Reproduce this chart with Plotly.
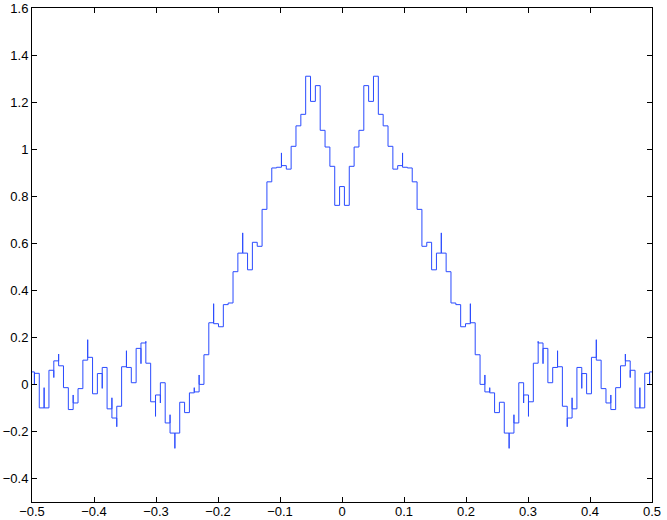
import plotly.graph_objects as go

# step width and step levels, k = -64 .. 64 (step centred on k/128)
step = 1 / 128
levels = [
    0.053, 0.047, -0.100, -0.100, 0.060, 0.100, 0.079, -0.014,
    -0.107, -0.079, -0.018, 0.103, 0.115, -0.040, 0.046, 0.072,
    -0.104, -0.143, -0.093, 0.075, 0.072, 0.007, 0.153, 0.176,
    0.090, -0.074, -0.045, 0.007, -0.164, -0.207, -0.207, -0.076,
    -0.120, -0.036, -0.032, 0.000, 0.126, 0.262, 0.258, 0.245,
    0.339, 0.346, 0.479, 0.558, 0.558, 0.487, 0.604, 0.587,
    0.744, 0.861, 0.920, 0.923, 0.930, 0.915, 1.012, 1.099,
    1.148, 1.310, 1.203, 1.270, 1.080, 1.009, 0.927, 0.761,
    0.841,
    0.761, 0.927, 1.009, 1.080, 1.270, 1.203, 1.310, 1.148,
    1.099, 1.012, 0.915, 0.930, 0.923, 0.920, 0.861, 0.744,
    0.587, 0.604, 0.487, 0.558, 0.558, 0.479, 0.346, 0.339,
    0.245, 0.258, 0.262, 0.126, 0.000, -0.032, -0.036, -0.120,
    -0.076, -0.207, -0.207, -0.164, 0.007, -0.045, -0.074, 0.090,
    0.176, 0.153, 0.007, 0.072, 0.075, -0.093, -0.143, -0.104,
    0.072, 0.046, -0.040, 0.115, 0.103, -0.018, -0.079, -0.107,
    -0.014, 0.079, 0.100, 0.060, -0.100, -0.100, 0.047, 0.053,
]

# narrow spikes sitting on step boundaries (boundary in step units)
spike_at = [-63.5, -61.5, -59.5, -58.5, -55.5, -52.5, -49.5, -47.5,
            -46.5, -44.5, -41.5, -40.5, -38.5, -37.5, -35.5, -34.5,
            -30.5, -29.5, -26.5, -20.5, -12.5,
            12.5, 20.5, 26.5, 29.5, 30.5, 34.5, 35.5, 37.5,
            38.5, 40.5, 41.5, 44.5, 46.5, 47.5, 49.5, 52.5,
            55.5, 58.5, 59.5, 61.5, 63.5]
spike_val = [0.000, -0.014, 0.029, 0.129, -0.045, 0.190, -0.017, -0.057,
             -0.180, 0.143, 0.088, 0.183, -0.136, -0.079, -0.129, -0.272,
             -0.014, 0.040, 0.343, 0.644, 0.984,
             0.984, 0.644, 0.343, 0.040, -0.014, -0.272, -0.129, -0.079,
             -0.136, 0.183, 0.088, 0.143, -0.180, -0.057, -0.017, 0.190,
             -0.045, 0.129, 0.029, -0.014, 0.000]

spikes = dict(zip(spike_at, spike_val))

# build the stair path
xs = [-0.5]
ys = [levels[0]]
for i in range(1, len(levels)):
    b = i - 64 - 0.5
    if b in spikes:
        xs.append(b * step)
        ys.append(spikes[b])
    xs.append(b * step)
    ys.append(levels[i])
xs.append(0.5)
ys.append(levels[-1])

fig = go.Figure()
fig.add_trace(go.Scatter(x=xs, y=ys, mode='lines',
                         line=dict(color='#2a4bff', width=1, shape='hv'),
                         showlegend=False))

axis_style = dict(showline=True, linecolor='black', linewidth=1,
                  mirror='ticks', ticks='inside', ticklen=5,
                  tickcolor='black', showgrid=False, zeroline=False,
                  automargin=False, ticklabeloverflow='allow',
                  tickfont=dict(family='Liberation Sans', size=13,
                                color='black'))

fig.update_xaxes(range=[-0.5, 0.5], dtick=0.1, tick0=-0.5,
                 ticklabelstandoff=-3, **axis_style)
fig.update_yaxes(range=[-0.5, 1.6], tickvals=[-0.4, -0.2, 0, 0.2, 0.4, 0.6,
                                             0.8, 1, 1.2, 1.4, 1.6],
                 **axis_style)

fig.update_layout(width=667, height=520,
                  margin=dict(l=32, r=15, t=8, b=18),
                  plot_bgcolor='white', paper_bgcolor='white')

# page body has a default 8px margin; drop it so the figure sits at 0,0
fig.write_html("out.html", config={'displayModeBar': False},
               post_script="document.body.style.margin='0';")
